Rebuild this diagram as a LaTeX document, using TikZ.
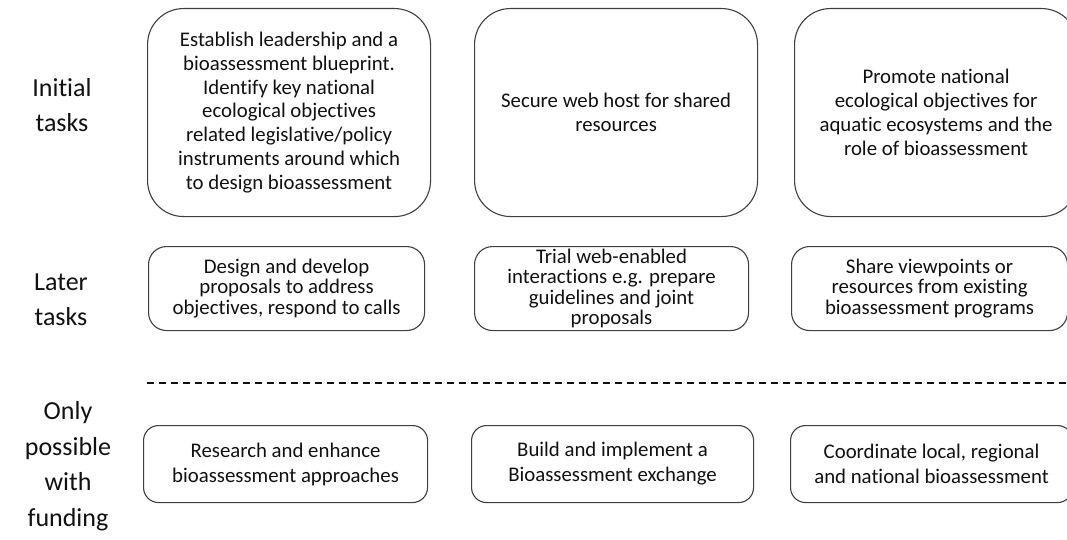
\documentclass[tikz,border=0pt]{standalone}
\usepackage{fontspec}
\setmainfont{Carlito}[Ligatures=NoCommon]
\definecolor{edgegray}{HTML}{404040}
\definecolor{inkblack}{HTML}{111111}
\tikzset{
  x=1pt, y=-1pt,
  taskbox/.style={draw=edgegray, line width=1.1pt, align=center, inner sep=0pt,
    anchor=north west, text=inkblack},
  rowone/.style={taskbox, rounded corners=36pt, minimum height=208pt,
    font=\fontsize{20.8}{23.8}\selectfont},
  rowtwo/.style={taskbox, rounded corners=18pt, minimum height=84pt,
    font=\fontsize{20.8}{20.6}\selectfont},
  rowthree/.style={taskbox, rounded corners=15pt, minimum height=77pt,
    font=\fontsize{20.8}{25}\selectfont},
  rowlabel/.style={align=center, inner sep=0pt, text=inkblack,
    font=\fontsize{26}{35.5}\selectfont},
  divider/.style={draw=inkblack, line width=1.2pt, dash pattern=on 7pt off 5pt}
}
\begin{document}
\begin{tikzpicture}
\useasboundingbox (0,0) rectangle (1067,540);
\clip (0,0) rectangle (1067,540);
\fill[white] (0,0) rectangle (1067,540);

% row headings
\node[rowlabel] (initial) at (62,105) {Initial\\tasks};
\node[rowlabel] (later) at (61,300) {Later\\tasks};
\node[rowlabel] (funding) at (68,466) {Only\\possible\\with\\funding};

% initial tasks
\node[rowone, minimum width=283pt] (i1) at (147,8)
  {Establish leadership and a\\bioassessment blueprint.\\Identify key national\\ecological objectives\\related legislative/policy\\instruments around which\\to design bioassessment};
\node[rowone, minimum width=283pt] (i2) at (474,8)
  {Secure web host for shared\\resources};
\node[rowone, minimum width=283pt] (i3) at (794,8)
  {Promote national\\ecological objectives for\\aquatic ecosystems and the\\role of bioassessment};

% later tasks
\node[rowtwo, minimum width=276pt] (l1) at (148,246)
  {Design and develop\\proposals to address\\objectives, respond to calls};
\node[rowtwo, minimum width=274pt] (l2) at (474,246)
  {Trial web-enabled\\interactions e.g. prepare\\guidelines and joint\\proposals};
\node[rowtwo, minimum width=276pt] (l3) at (791,246)
  {Share viewpoints or\\resources from existing\\bioassessment programs};

% funding boundary
\coordinate (dashL) at (147,383);
\coordinate (dashR) at (1067,383);
\draw[divider] (dashL) -- (dashR);

% funded tasks
\node[rowthree, minimum width=284pt] (f1) at (143,425)
  {Research and enhance\\bioassessment approaches};
\node[rowthree, minimum width=282pt] (f2) at (471,425)
  {Build and implement a\\Bioassessment exchange};
\node[rowthree, minimum width=282pt] (f3) at (790,425)
  {Coordinate local, regional\\and national bioassessment};
\end{tikzpicture}
\end{document}
